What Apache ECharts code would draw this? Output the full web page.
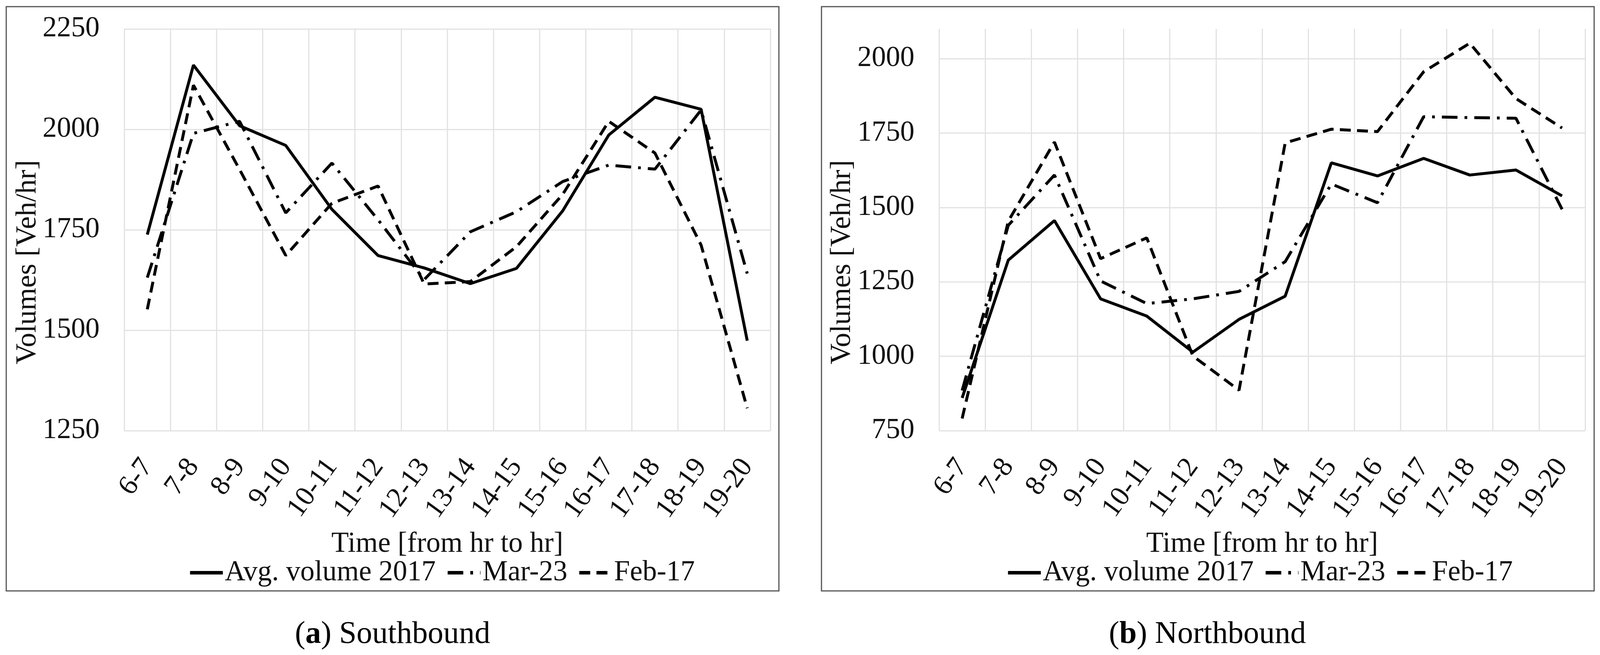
<!DOCTYPE html>
<html><head><meta charset="utf-8">
<script src="https://cdn.jsdelivr.net/npm/echarts@6/dist/echarts.min.js"></script>
<style>html,body{margin:0;padding:0;background:#fff;overflow:hidden}#c{width:100vw;height:1676px}</style>
</head><body><div id="c"></div>
<script>
const categories = ['6-7','7-8','8-9','9-10','10-11','11-12','12-13','13-14','14-15','15-16','16-17','17-18','18-19','19-20'];
const seriesNames = ['Avg. volume 2017','Mar-23','Feb-17'];
// Southbound
const sbAvg2017 = [1738,2160,2009,1960,1801,1686,1655,1616,1654,1797,1986,2080,2050,1474];
const sbMar23   = [1631,1990,2020,1792,1916,1775,1626,1745,1795,1870,1911,1901,2048,1641];
const sbFeb17   = [1552,2110,1900,1686,1816,1859,1615,1621,1708,1838,2020,1941,1712,1306];
// Northbound
const nbAvg2017 = [860,1323,1456,1193,1135,1014,1124,1202,1650,1606,1665,1609,1626,1539];
const nbMar23   = [885,1440,1609,1253,1177,1193,1218,1318,1579,1516,1805,1802,1800,1494];
const nbFeb17   = [791,1454,1720,1328,1398,1001,886,1717,1763,1755,1956,2052,1866,1767];
// Axis ticks
const sbYTicks = [1250,1500,1750,2000,2250];
const nbYTicks = [750,1000,1250,1500,1750,2000];
const nbYMax = 2100;
const xTitle = 'Time [from hr to hr]';
const yTitle = 'Volumes [Veh/hr]';
const captions = [['a',' Southbound'],['b',' Northbound']];

const FONT = 'Liberation Serif';
const TXT = '#111';
const lineStyles = [
  {type:'solid'},
  {type:[40,18,7,18]},
  {type:[28,16]}
];

const el = document.getElementById('c');
const W = el.clientWidth || 4280;
const sx = W / 4280;
const X = v => Math.round(v * sx);

const grids = [
  {left:X(332), top:74, width:X(1728), height:1028},
  {left:X(2512), top:74, width:X(1728), height:1028}
];

function xAxis(gi){
  return {
    type:'category', gridIndex:gi, data:categories, boundaryGap:true,
    axisLine:{show:false}, axisTick:{show:false},
    axisLabel:{rotate:54, fontSize:72, fontFamily:FONT, color:TXT, margin:80, interval:0},
    splitLine:{show:true, lineStyle:{color:'#e2e2e2', width:3}},
    name:xTitle, nameLocation:'middle', nameGap:254,
    nameTextStyle:{fontSize:73, fontFamily:FONT, color:TXT}
  };
}
function yAxis(gi, ticks, max){
  const interval = ticks[1]-ticks[0];
  const colors = ticks.map(()=> '#e2e2e2');
  if (max !== ticks[ticks.length-1]) colors.push('rgba(0,0,0,0)');
  return {
    type:'value', gridIndex:gi, min:ticks[0], max:max, interval:interval,
    axisLine:{show:false}, axisTick:{show:false},
    axisLabel:{fontSize:73, fontFamily:FONT, color:TXT, margin:X(66), showMaxLabel: max===ticks[ticks.length-1], formatter:v=>String(v)},
    splitLine:{show:true, lineStyle:{color:colors, width:3}}
  };
}
function mkSeries(gi, arrs){
  return arrs.map((d,i)=>({
    name:seriesNames[i], type:'line', xAxisIndex:gi, yAxisIndex:gi, data:d,
    symbol:'none', animation:false,
    lineStyle:Object.assign({color:'#000', width:7.5}, lineStyles[i]),
    itemStyle:{color:'#000', opacity:0}
  }));
}
function legend(left){
  return {
    left:X(left), top:1424, orient:'horizontal', data:seriesNames,
    itemWidth:84, itemHeight:22, itemGap:26, selectedMode:false,
    itemStyle:{opacity:0},
    lineStyle:{width:9},
    textStyle:{fontSize:73, fontFamily:FONT, color:TXT}
  };
}
const rich = {p:{fontSize:80,fontFamily:FONT,fill:'#000'}, b:{fontSize:80,fontFamily:FONT,fontWeight:'bold',fill:'#000'}};

const chart = echarts.init(el, null, {renderer:'canvas'});
const option = {
  backgroundColor:'#fff',
  animation:false,
  grid:grids,
  xAxis:[xAxis(0), xAxis(1)],
  yAxis:[yAxis(0, sbYTicks, sbYTicks[sbYTicks.length-1]), yAxis(1, nbYTicks, nbYMax)],
  legend:[legend(498), legend(2686)],
  series:[].concat(mkSeries(0,[sbAvg2017,sbMar23,sbFeb17]), mkSeries(1,[nbAvg2017,nbMar23,nbFeb17])),
  graphic:[
    {type:'rect', shape:{x:X(17),y:17,width:X(2067),height:1495}, style:{fill:'none', stroke:'#555', lineWidth:3}, silent:true},
    {type:'rect', shape:{x:X(2197),y:17,width:X(2067),height:1495}, style:{fill:'none', stroke:'#555', lineWidth:3}, silent:true},
    {type:'text', x:X(75), y:671, rotation:Math.PI/2, style:{text:yTitle, fontSize:74, fontFamily:FONT, fill:TXT, align:'center', verticalAlign:'middle'}},
    {type:'text', x:X(2254), y:671, rotation:Math.PI/2, style:{text:yTitle, fontSize:74, fontFamily:FONT, fill:TXT, align:'center', verticalAlign:'middle'}},
    {type:'text', x:X(1050), y:1624, style:{text:'{p|(}{b|'+captions[0][0]+'}{p|)'+captions[0][1]+'}', align:'center', verticalAlign:'middle', rich:rich}},
    {type:'text', x:X(3230), y:1624, style:{text:'{p|(}{b|'+captions[1][0]+'}{p|)'+captions[1][1]+'}', align:'center', verticalAlign:'middle', rich:rich}}
  ]
};
chart.setOption(option);
</script>
</body></html>
